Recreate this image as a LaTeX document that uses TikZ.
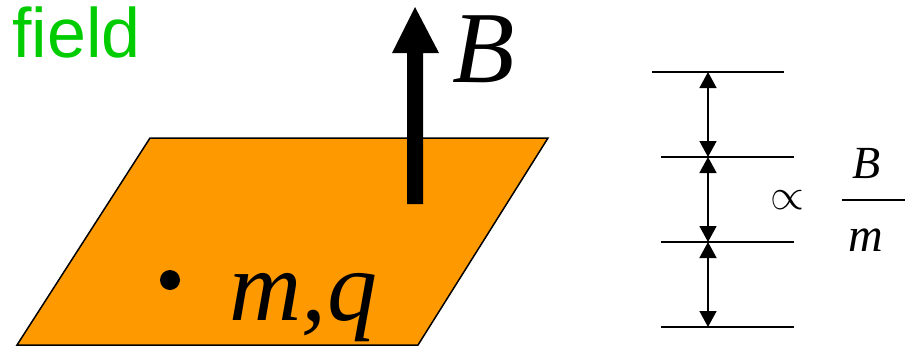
\documentclass[tikz,border=0pt]{standalone}
\usepackage{fontspec}
\setmainfont{Liberation Serif}
\newfontfamily\labelsans{Liberation Sans}
\usetikzlibrary{arrows.meta}
\definecolor{plane}{RGB}{255,153,0}
\definecolor{fieldgreen}{RGB}{0,204,0}
\tikzset{
  level/.style={line width=1.5pt},
  gap/.style={line width=1.5pt,{Triangle[width=17pt,length=16pt]}-{Triangle[width=17pt,length=16pt]}},
  bigital/.style={inner sep=0pt,font=\fontsize{102}{102}\selectfont\itshape},
}
\begin{document}
\begin{tikzpicture}[x=1pt,y=-1pt]
\useasboundingbox (0,0) rectangle (905,346);
\clip (0,0) rectangle (905,346);
% plane
\filldraw[fill=plane,draw=black,line width=1.5pt] (150,138) -- (548,138) -- (418,345) -- (17,345) -- cycle;
% field vector
\fill[black] (407,204) -- (423,204) -- (423,53) -- (439,53) -- (415,7) -- (392,53) -- (407,53) -- cycle;
\node[bigital,anchor=base west] (B) at (452,82) {B};
\node[inner sep=0pt,anchor=base west,text=fieldgreen,font=\fontsize{70}{70}\selectfont\labelsans] (field) at (12,57) {field};
% particle
\fill[black] (170,280) circle (10);
\node[bigital,anchor=base west,font=\fontsize{100}{100}\selectfont\itshape] (mq) at (229,320) {m,\kern1pt q};
% levels
\coordinate (l1a) at (652,72);  \coordinate (l1b) at (784,72);
\coordinate (l2a) at (661,157); \coordinate (l2b) at (794,157);
\coordinate (l3a) at (661,242); \coordinate (l3b) at (794,242);
\coordinate (l4a) at (661,327); \coordinate (l4b) at (794,327);
\draw[level] (l1a) -- (l1b);
\draw[level] (l2a) -- (l2b);
\draw[level] (l3a) -- (l3b);
\draw[level] (l4a) -- (l4b);
\coordinate (g1) at (708,72);
\coordinate (g2) at (708,157);
\coordinate (g3) at (708,242);
\coordinate (g4) at (708,327);
\draw[gap] (g1) -- (g2);
\draw[gap] (g2) -- (g3);
\draw[gap] (g3) -- (g4);
% proportional
\node[inner sep=0pt,scale=2.1,font=\fontsize{20}{20}\selectfont] (prop) at (787,200) {$\propto$};
\coordinate (fa) at (842,200);
\coordinate (fb) at (910,200);
\draw[line width=1.5pt] (fa) -- (fb);
\node[inner sep=0pt,anchor=base west,font=\fontsize{46}{46}\selectfont\itshape] (Bs) at (852,178) {B};
\node[inner sep=0pt,anchor=base west,font=\fontsize{48}{48}\selectfont\itshape] (ms) at (848,251) {m};
\end{tikzpicture}
\end{document}
